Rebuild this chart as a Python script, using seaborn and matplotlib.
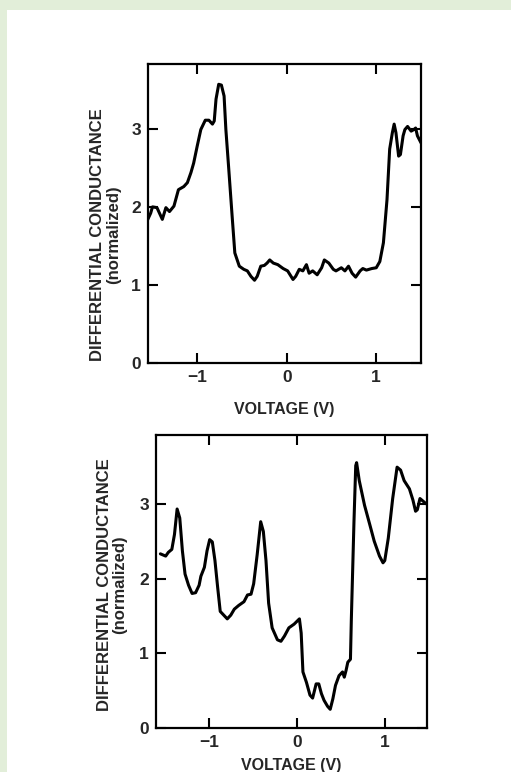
import numpy as np
import pandas as pd
import matplotlib
matplotlib.use("Agg")
import matplotlib.pyplot as plt
import seaborn as sns
from matplotlib.patches import Rectangle

# ---- data ----
top_v = [-1.56, -1.52, -1.50, -1.45, -1.39, -1.35, -1.31, -1.26, -1.21, -1.15, -1.11, -1.07,
         -1.04, -1.00, -0.96, -0.91, -0.87, -0.83, -0.81, -0.79, -0.76, -0.73, -0.70, -0.68,
         -0.65, -0.61, -0.58, -0.53, -0.48, -0.44, -0.40, -0.36, -0.33, -0.29, -0.25, -0.22,
         -0.19, -0.15, -0.10, -0.04, 0.01, 0.07, 0.10, 0.14, 0.18, 0.22, 0.25, 0.29, 0.34,
         0.39, 0.42, 0.47, 0.52, 0.55, 0.61, 0.65, 0.69, 0.73, 0.77, 0.82, 0.85, 0.89, 0.95,
         1.00, 1.04, 1.08, 1.12, 1.15, 1.18, 1.20, 1.22, 1.25, 1.27, 1.30, 1.32, 1.35, 1.39,
         1.42, 1.44, 1.46, 1.50]
top_g = [1.82, 1.92, 2.00, 1.99, 1.84, 1.99, 1.94, 2.01, 2.22, 2.26, 2.31, 2.44,
         2.56, 2.78, 2.99, 3.11, 3.11, 3.06, 3.10, 3.38, 3.57, 3.56, 3.42, 2.99,
         2.52, 1.88, 1.41, 1.24, 1.20, 1.18, 1.11, 1.06, 1.11, 1.24, 1.25, 1.28,
         1.32, 1.28, 1.26, 1.21, 1.18, 1.07, 1.11, 1.20, 1.18, 1.26, 1.15, 1.18, 1.13,
         1.22, 1.32, 1.28, 1.20, 1.18, 1.22, 1.18, 1.24, 1.15, 1.10, 1.18, 1.21, 1.19, 1.21,
         1.22, 1.30, 1.54, 2.09, 2.74, 2.95, 3.06, 2.95, 2.65, 2.67, 2.91, 2.99, 3.03, 2.97,
         2.99, 3.01, 2.91, 2.82]

bot_v = [-1.55, -1.49, -1.46, -1.42, -1.39, -1.36, -1.33, -1.30, -1.27, -1.23, -1.19, -1.15,
         -1.11, -1.09, -1.05, -1.02, -0.99, -0.96, -0.93, -0.90, -0.87, -0.83, -0.79, -0.75,
         -0.71, -0.66, -0.60, -0.56, -0.52, -0.49, -0.45, -0.41, -0.38, -0.35, -0.32, -0.28,
         -0.22, -0.18, -0.14, -0.09, -0.03, 0.03, 0.05, 0.07, 0.11, 0.15, 0.18, 0.22, 0.25,
         0.28, 0.31, 0.35, 0.38, 0.41, 0.44, 0.48, 0.52, 0.54, 0.56, 0.58, 0.61, 0.62, 0.65,
         0.67, 0.68, 0.71, 0.77, 0.83, 0.88, 0.94, 0.98, 1.00, 1.04, 1.09, 1.14, 1.18, 1.22,
         1.28, 1.32, 1.35, 1.37, 1.40, 1.43, 1.47]
bot_g = [2.33, 2.30, 2.35, 2.39, 2.59, 2.93, 2.81, 2.37, 2.06, 1.91, 1.80, 1.81,
         1.91, 2.03, 2.15, 2.37, 2.52, 2.49, 2.24, 1.89, 1.56, 1.51, 1.46, 1.51,
         1.59, 1.64, 1.69, 1.78, 1.79, 1.93, 2.32, 2.76, 2.63, 2.24, 1.67, 1.34,
         1.18, 1.16, 1.23, 1.34, 1.39, 1.46, 1.27, 0.75, 0.61, 0.44, 0.40, 0.59, 0.59,
         0.46, 0.37, 0.29, 0.25, 0.39, 0.57, 0.70, 0.75, 0.68, 0.77, 0.88, 0.92, 1.45, 2.76,
         3.51, 3.55, 3.31, 2.98, 2.72, 2.50, 2.30, 2.21, 2.24, 2.54, 3.07, 3.49, 3.45, 3.31,
         3.20, 3.05, 2.90, 2.92, 3.07, 3.04, 3.00]

x_ticks = [-1, 0, 1]
x_tick_labels = ["\u22121", "0", "1"]
y_ticks = [0, 1, 2, 3]
y_tick_labels = ["0", "1", "2", "3"]
x_label = "VOLTAGE (V)"
y_label = "DIFFERENTIAL CONDUCTANCE\n(normalized)"

sns.set_theme(style="white")
plt.rcParams['font.family'] = ['Liberation Sans', 'DejaVu Sans']

fig = plt.figure(figsize=(5.11, 7.72), dpi=100)
fig.patch.set_facecolor("white")
# green page border
fig.patches.append(Rectangle((0, 0), 7 / 511, 1, transform=fig.transFigure,
                             facecolor="#e2eed9", edgecolor="none", zorder=-5))
fig.patches.append(Rectangle((0, 1 - 10 / 772), 1, 10 / 772, transform=fig.transFigure,
                             facecolor="#e2eed9", edgecolor="none", zorder=-5))

ax1 = fig.add_axes([148 / 511, 1 - 363 / 772, 273 / 511, 299 / 772])
ax2 = fig.add_axes([156 / 511, 1 - 728 / 772, 271 / 511, 293 / 772])

df1 = pd.DataFrame({"V": top_v, "G": top_g})
df2 = pd.DataFrame({"V": bot_v, "G": bot_g})
sns.lineplot(data=df1, x="V", y="G", ax=ax1, color="black", linewidth=2.2, sort=False)
sns.lineplot(data=df2, x="V", y="G", ax=ax2, color="black", linewidth=2.2, sort=False)

for ax, xl, yl in [(ax1, (-1.55, 1.50), (0, 3.83)), (ax2, (-1.60, 1.48), (0, 3.92))]:
    ax.set_xlim(*xl)
    ax.set_ylim(*yl)
    ax.set_facecolor("none")
    ax.set_xticks(x_ticks)
    ax.set_xticklabels(x_tick_labels)
    ax.set_yticks(y_ticks)
    ax.set_yticklabels(y_tick_labels)
    ax.tick_params(direction="in", length=7.5, width=1.5, color="black",
                   top=True, right=True, bottom=True, left=True,
                   labelsize=12.5, pad=5)
    for lbl in ax.get_xticklabels() + ax.get_yticklabels():
        lbl.set_fontweight("bold")
    for s in ax.spines.values():
        s.set_color("black")
        s.set_linewidth(1.6)
    ax.set_xlabel(x_label, fontsize=11.5, fontweight="bold", labelpad=12)
    ax.set_ylabel(y_label, fontsize=12, fontweight="bold", linespacing=1.05)

ax1.yaxis.set_label_coords(-0.10, 0.43)
ax2.yaxis.set_label_coords(-0.105, 0.49)
ax2.set_xlabel(x_label, fontsize=11.5, fontweight="bold", labelpad=6)

fig.savefig("out.png", dpi=100)
